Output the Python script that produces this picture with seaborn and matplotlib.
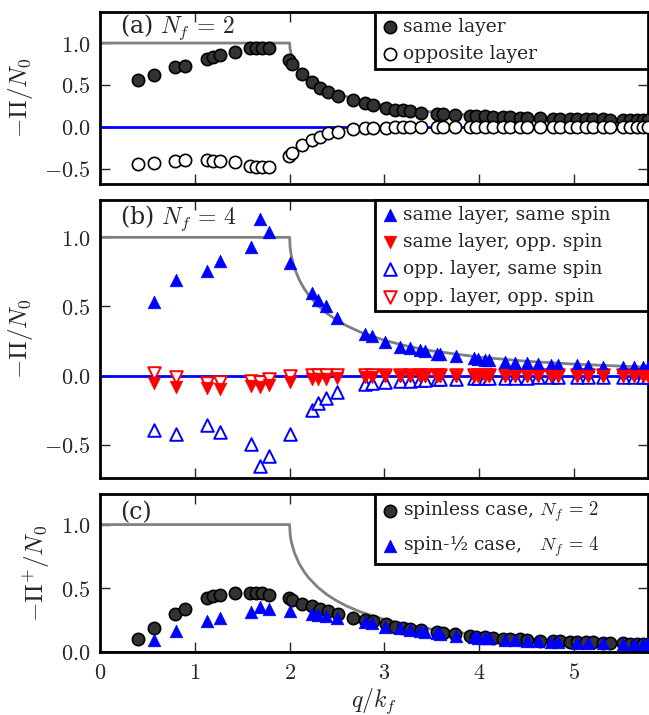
import matplotlib
matplotlib.use("Agg")
import matplotlib.pyplot as plt
import seaborn as sns
from matplotlib.ticker import FuncFormatter, MultipleLocator

# ---------------- data ----------------
# theory curve
theory_q = [0.0, 2.0, 2.005, 2.01, 2.02, 2.05, 2.1, 2.15, 2.2, 2.3, 2.4, 2.5, 2.6, 2.75,
            3.0, 3.25, 3.5, 4.0, 4.5, 5.0, 5.5, 5.9]
theory_v = [1.0, 1.0, 0.929, 0.900, 0.860, 0.780, 0.695, 0.633, 0.583, 0.506, 0.447, 0.400,
            0.361, 0.314, 0.255, 0.212, 0.179, 0.134, 0.104, 0.0835, 0.0685, 0.059]

# panel (a) and spinless case in (c)
q_a = [0.40, 0.57, 0.79, 0.90, 1.125, 1.195, 1.266, 1.424, 1.58, 1.65, 1.71, 1.78,
       1.99, 2.02, 2.13, 2.24, 2.32, 2.41, 2.51, 2.67, 2.80, 2.88, 3.02, 3.11, 3.20,
       3.27, 3.39, 3.55, 3.62, 3.74, 3.90, 3.97, 4.06, 4.15, 4.25, 4.32, 4.43, 4.50,
       4.64, 4.78, 4.85, 4.96, 5.03, 5.13, 5.20, 5.31, 5.38, 5.52, 5.59, 5.66, 5.73, 5.78]
same_layer = [0.56, 0.615, 0.72, 0.73, 0.805, 0.837, 0.857, 0.897, 0.937, 0.94, 0.94, 0.94,
              0.80, 0.75, 0.63, 0.54, 0.47, 0.42, 0.373, 0.32, 0.28, 0.26, 0.225, 0.20, 0.20,
              0.185, 0.17, 0.16, 0.15, 0.14, 0.13, 0.13, 0.125, 0.12, 0.115, 0.115, 0.11, 0.11,
              0.105, 0.10, 0.10, 0.095, 0.095, 0.09, 0.09, 0.09, 0.085, 0.085, 0.085, 0.08, 0.08, 0.08]
opposite_layer = [-0.44, -0.43, -0.41, -0.39, -0.39, -0.41, -0.41, -0.42, -0.46, -0.48, -0.48, -0.48,
                  -0.35, -0.31, -0.22, -0.155, -0.115, -0.075, -0.056, -0.03, -0.015, -0.015, -0.008,
                  -0.005, -0.003, -0.002, 0.0, 0.0, 0.002, 0.0, 0.003, 0.0, 0.004, 0.0, 0.003, 0.0,
                  0.004, 0.002, 0.0, 0.004, 0.002, 0.0, 0.003, 0.0, 0.002, 0.004, 0.0, 0.003, 0.0,
                  0.002, 0.0, 0.003]
spinless = [0.10, 0.185, 0.30, 0.34, 0.42, 0.44, 0.445, 0.46, 0.46, 0.46, 0.46, 0.45,
            0.42, 0.405, 0.38, 0.36, 0.34, 0.32, 0.30, 0.27, 0.25, 0.24, 0.22, 0.20, 0.19,
            0.18, 0.17, 0.155, 0.15, 0.14, 0.125, 0.12, 0.115, 0.11, 0.105, 0.10, 0.10, 0.095,
            0.09, 0.085, 0.085, 0.08, 0.08, 0.075, 0.075, 0.07, 0.07, 0.068, 0.066, 0.065, 0.064, 0.063]

# panel (b) and spin-1/2 case in (c)
q_b = [0.57, 0.80, 1.125, 1.266, 1.59, 1.69, 1.78, 2.00, 2.24, 2.30, 2.38, 2.50, 2.80,
       2.87, 3.01, 3.16, 3.27, 3.38, 3.43, 3.55, 3.59, 3.76, 3.94, 3.99, 4.06, 4.10,
       4.27, 4.38, 4.50, 4.62, 4.76, 4.83, 5.03, 5.15, 5.31, 5.52, 5.63, 5.73, 5.78]
same_same = [0.536, 0.69, 0.76, 0.83, 0.93, 1.13, 1.04, 0.815, 0.60, 0.55, 0.50, 0.42, 0.30,
             0.29, 0.24, 0.21, 0.20, 0.186, 0.175, 0.16, 0.155, 0.14, 0.126, 0.12, 0.114, 0.11,
             0.10, 0.095, 0.09, 0.085, 0.08, 0.075, 0.075, 0.07, 0.065, 0.062, 0.062, 0.06, 0.06]
same_opp = [-0.05, -0.085, -0.09, -0.10, -0.075, -0.08, -0.067, -0.043, -0.026, -0.026, -0.026,
            -0.02, -0.007, -0.007, -0.004, -0.004, -0.003, -0.003, -0.003, -0.002, -0.002,
            -0.002, -0.002, -0.002, -0.002, -0.001, -0.001, -0.001, -0.001, -0.001, -0.001,
            -0.001, -0.001, -0.001, 0.0, 0.0, 0.0, 0.0, 0.0]
opp_same = [-0.39, -0.42, -0.36, -0.41, -0.495, -0.65, -0.58, -0.42, -0.25, -0.20, -0.165,
            -0.115, -0.06, -0.055, -0.043, -0.04, -0.04, -0.03, -0.03, -0.026, -0.026, -0.026,
            -0.02, -0.02, -0.02, -0.02, -0.015, -0.015, -0.015, -0.012, -0.012, -0.012, -0.01,
            -0.01, -0.01, -0.008, -0.008, -0.008, -0.008]
opp_opp = [0.017, -0.012, -0.05, -0.043, -0.036, -0.043, -0.026, -0.002, 0.005, 0.005, 0.005,
           0.005, 0.005, 0.005, 0.005, 0.005, 0.005, 0.005, 0.005, 0.005, 0.005, 0.005, 0.005,
           0.005, 0.005, 0.005, 0.005, 0.005, 0.005, 0.005, 0.005, 0.005, 0.005, 0.005, 0.005,
           0.005, 0.005, 0.005, 0.005]
spin_half = [0.094, 0.164, 0.24, 0.27, 0.315, 0.35, 0.34, 0.32, 0.30, 0.29, 0.28, 0.27, 0.235,
             0.225, 0.20, 0.185, 0.175, 0.165, 0.16, 0.15, 0.145, 0.125, 0.115, 0.113, 0.11,
             0.108, 0.095, 0.092, 0.09, 0.087, 0.08, 0.078, 0.073, 0.072, 0.07, 0.063, 0.062,
             0.061, 0.06]

# ---------------- style ----------------
sns.set_style("ticks")
plt.rcParams["font.family"] = ["DejaVu Serif"]
plt.rcParams["mathtext.fontset"] = "cm"
plt.rcParams["xtick.direction"] = "in"
plt.rcParams["ytick.direction"] = "in"

GREY_DOT = "#333333"
BLUE = "#0000ff"
RED = "#ff0000"
LINE_GREY = "#808080"

fig = plt.figure(figsize=(6.49, 7.15), dpi=100)
L, W = 100 / 649, 548 / 649
ax_a = fig.add_axes([L, 1 - 184 / 715, W, 172 / 715])
ax_b = fig.add_axes([L, 1 - 478 / 715, W, 278 / 715])
ax_c = fig.add_axes([L, 1 - 652 / 715, W, 158 / 715])

S_CIRC = 78
S_TRI = 82
EW = 1.2


def theory(ax):
    sns.lineplot(x=theory_q, y=theory_v, ax=ax, color=LINE_GREY, lw=2.0,
                 sort=False, estimator=None, zorder=2, legend=False)


def style_axes(ax, ylim, yticks, show_x):
    ax.set_xlim(0, 5.78)
    ax.set_ylim(*ylim)
    ax.set_yticks(yticks)
    ax.xaxis.set_major_locator(MultipleLocator(1))
    ax.tick_params(which="both", direction="in", top=True, right=True,
                   length=7, width=1.0, labelsize=16, pad=7)
    ax.yaxis.set_major_formatter(FuncFormatter(lambda v, p: f"${v:.1f}$"))
    ax.xaxis.set_major_formatter(FuncFormatter(lambda v, p: f"${v:.0f}$"))
    if not show_x:
        ax.tick_params(labelbottom=False)
    for sp in ax.spines.values():
        sp.set_linewidth(2.0)
        sp.set_color("black")
        sp.set_visible(True)


def legend(ax, handles, labels):
    leg = ax.legend(handles, labels, loc="upper left", bbox_to_anchor=(0.502, 0.0, 0.498, 1.0),
                    mode="expand", borderaxespad=0, frameon=True,
                    fancybox=False, edgecolor="black", framealpha=1, fontsize=13.5,
                    handletextpad=0.2, handlelength=1.0, borderpad=0.3,
                    labelspacing=0.5, scatterpoints=1)
    leg.get_frame().set_linewidth(2.0)
    leg.set_zorder(10)


# ---------------- panel (a) ----------------
theory(ax_a)
ax_a.axhline(0, color=BLUE, lw=2, zorder=2)
sns.scatterplot(x=q_a, y=same_layer, ax=ax_a, marker="o", s=S_CIRC, color=GREY_DOT,
                edgecolor="black", linewidth=EW, zorder=3, label="same layer")
sns.scatterplot(x=q_a, y=opposite_layer, ax=ax_a, marker="o", s=S_CIRC, color="white",
                edgecolor="black", linewidth=EW, zorder=3, label="opposite layer")
h, l = ax_a.get_legend_handles_labels()
legend(ax_a, h, l)
style_axes(ax_a, (-0.68, 1.37), [-0.5, 0.0, 0.5, 1.0], False)
ax_a.set_ylabel(r"$-\Pi/N_0$", fontsize=18, labelpad=6)
ax_a.text(0.21, 1.19, r"(a) $N_f\,=\,2$", fontsize=17, va="center", ha="left")

# ---------------- panel (b) ----------------
theory(ax_b)
ax_b.axhline(0, color=BLUE, lw=2, zorder=2)
sns.scatterplot(x=q_b, y=opp_same, ax=ax_b, marker="^", s=S_TRI, color="white",
                edgecolor=BLUE, linewidth=1.4, zorder=3, label="opp. layer, same spin")
sns.scatterplot(x=q_b, y=opp_opp, ax=ax_b, marker="v", s=S_TRI, color="white",
                edgecolor=RED, linewidth=1.4, zorder=3, label="opp. layer, opp. spin")
sns.scatterplot(x=q_b, y=same_same, ax=ax_b, marker="^", s=S_TRI, color=BLUE,
                edgecolor=BLUE, linewidth=0.5, zorder=4, label="same layer, same spin")
sns.scatterplot(x=q_b, y=same_opp, ax=ax_b, marker="v", s=S_TRI, color=RED,
                edgecolor=RED, linewidth=0.5, zorder=4, label="same layer, opp. spin")
h, l = ax_b.get_legend_handles_labels()
order = [2, 3, 0, 1]
legend(ax_b, [h[i] for i in order], [l[i] for i in order])
style_axes(ax_b, (-0.74, 1.27), [-0.5, 0.0, 0.5, 1.0], False)
ax_b.set_ylabel(r"$-\Pi/N_0$", fontsize=18, labelpad=6)
ax_b.text(0.21, 1.14, r"(b) $N_f\,=\,4$", fontsize=17, va="center", ha="left")

# ---------------- panel (c) ----------------
theory(ax_c)
ax_c.axhline(0, color=BLUE, lw=2, zorder=2)
sns.scatterplot(x=q_a, y=spinless, ax=ax_c, marker="o", s=S_CIRC, color=GREY_DOT,
                edgecolor="black", linewidth=EW, zorder=3, label=r"spinless case, $N_f\,=\,2$")
sns.scatterplot(x=q_b, y=spin_half, ax=ax_c, marker="^", s=S_TRI, color=BLUE,
                edgecolor=BLUE, linewidth=0.5, zorder=4, label=r"spin-½ case,   $N_f\,=\,4$")
h, l = ax_c.get_legend_handles_labels()
legend(ax_c, h, l)
style_axes(ax_c, (0.0, 1.24), [0.0, 0.5, 1.0], True)
ax_c.set_ylabel(r"$-\Pi^{+}/N_0$", fontsize=18, labelpad=6)
ax_c.set_xlabel(r"$q/k_f$", fontsize=17, va="center")
ax_c.xaxis.set_label_coords(0.5, -(701 - 652) / 158)
ax_c.text(0.21, 1.09, "(c)", fontsize=17, va="center", ha="left")

fig.savefig("out.png", dpi=100)
